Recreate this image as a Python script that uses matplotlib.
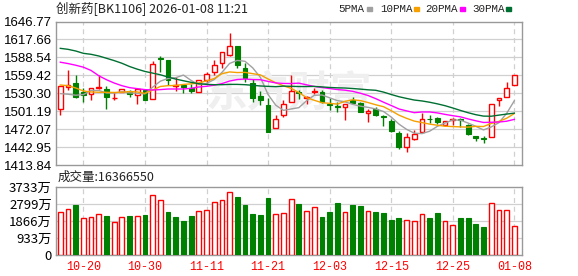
import matplotlib
matplotlib.use("Agg")
import matplotlib.pyplot as plt
import numpy as np

plt.rcParams["font.family"] = ["Noto Sans CJK SC", "DejaVu Sans"]

title = "创新药[BK1106] 2026-01-08 11:21"
date_ticks = [3, 11, 19, 27, 35, 43, 51, 59]
date_labels = ["10-20", "10-30", "11-11", "11-21", "12-03", "12-15", "12-25", "01-08"]
price_ticks = [1413.84, 1442.95, 1472.07, 1501.19, 1530.30, 1559.42, 1588.54, 1617.66, 1646.77]
vol_ticks = [0, 933, 1866, 2799, 3733]
vol_tick_labels = ["0", "933万", "1866万", "2799万", "3733万"]
last_volume = "16366550"

opens = [1504.0, 1540.5, 1546.7, 1531.9, 1529.7, 1538.3, 1537.8, 1522.8, 1533.0, 1534.0,
         1527.6, 1535.6, 1521.2, 1588.2, 1584.4, 1541.5, 1543.2, 1539.4, 1533.0, 1551.7,
         1564.0, 1580.1, 1591.9, 1606.9, 1571.0, 1546.7, 1526.5, 1510.5, 1474.5, 1494.9,
         1515.8, 1533.0, 1522.0, 1532.5, 1531.9, 1513.1, 1509.5, 1508.3, 1520.1, 1513.7,
         1497.6, 1505.1, 1493.6, 1484.7, 1466.5, 1442.9, 1455.8, 1468.1, 1489.0, 1489.6,
         1478.3, 1486.9, 1489.0, 1479.4, 1461.2, 1457.5, 1460.1, 1520.1, 1524.4, 1543.7]
closes = [1541.5, 1543.7, 1524.4, 1527.1, 1538.3, 1540.5, 1523.9, 1523.4, 1537.2, 1529.7,
          1537.2, 1519.0, 1577.5, 1586.0, 1551.7, 1543.7, 1540.0, 1534.0, 1551.2, 1561.9,
          1575.8, 1597.8, 1606.9, 1575.8, 1554.9, 1522.8, 1520.1, 1467.6, 1489.0, 1513.1,
          1534.0, 1530.8, 1523.5, 1533.6, 1515.8, 1511.0, 1508.2, 1513.1, 1513.7, 1500.3,
          1501.9, 1494.9, 1492.5, 1468.7, 1443.5, 1459.0, 1463.8, 1489.0, 1488.0, 1483.1,
          1485.8, 1489.0, 1487.0, 1464.4, 1456.9, 1456.5, 1513.1, 1522.2, 1538.9, 1559.8]
highs = [1541.5, 1568.3, 1560.3, 1538.9, 1538.3, 1559.8, 1542.1, 1531.9, 1538.0, 1536.2,
         1537.5, 1537.2, 1582.3, 1590.9, 1584.4, 1556.5, 1543.5, 1545.3, 1551.2, 1564.0,
         1584.4, 1598.0, 1627.3, 1607.0, 1580.1, 1553.3, 1533.5, 1522.8, 1494.9, 1520.1,
         1560.3, 1535.1, 1526.5, 1538.9, 1535.1, 1522.2, 1516.9, 1513.5, 1524.4, 1515.8,
         1504.0, 1508.3, 1494.5, 1489.0, 1468.7, 1466.5, 1470.9, 1497.6, 1494.4, 1492.2,
         1486.0, 1490.1, 1490.1, 1480.0, 1461.5, 1461.2, 1513.5, 1523.3, 1548.0, 1560.0]
lows = [1494.9, 1535.1, 1522.2, 1515.8, 1519.0, 1538.0, 1504.6, 1519.0, 1532.0, 1524.4,
        1512.6, 1519.0, 1521.0, 1564.0, 1543.2, 1533.5, 1530.8, 1530.8, 1533.0, 1546.9,
        1560.3, 1571.0, 1591.0, 1571.0, 1548.0, 1515.8, 1510.5, 1467.6, 1474.5, 1492.2,
        1515.8, 1521.2, 1512.6, 1529.7, 1515.0, 1503.0, 1499.7, 1486.9, 1513.0, 1499.7,
        1483.7, 1494.0, 1477.2, 1468.0, 1439.7, 1435.4, 1455.0, 1468.0, 1482.6, 1479.9,
        1476.5, 1478.3, 1476.2, 1462.2, 1453.1, 1449.4, 1460.0, 1509.4, 1524.0, 1543.7]

ma5 = [1529.7, 1528.7, 1527.1, 1528.2, 1535.0, 1534.8, 1530.8, 1530.6, 1532.7, 1530.9,
       1530.3, 1529.3, 1540.1, 1549.9, 1554.3, 1555.6, 1559.8, 1551.1, 1544.1, 1546.2,
       1552.6, 1564.1, 1578.7, 1583.6, 1582.2, 1571.6, 1556.1, 1528.2, 1510.9, 1502.5,
       1504.8, 1506.9, 1518.1, 1527.0, 1527.5, 1522.9, 1518.4, 1516.3, 1512.4, 1509.3,
       1507.4, 1504.8, 1500.7, 1491.7, 1480.3, 1471.7, 1465.5, 1464.8, 1468.7, 1476.6,
       1481.9, 1487.0, 1486.6, 1481.9, 1476.6, 1470.8, 1475.6, 1482.6, 1497.5, 1518.1]
ma10 = [1543.7, 1542.6, 1538.9, 1534.0, 1532.4, 1531.9, 1531.8, 1531.6, 1532.0, 1533.0,
        1532.5, 1530.1, 1535.4, 1541.3, 1542.6, 1543.0, 1544.6, 1545.6, 1547.0, 1550.3,
        1554.1, 1562.0, 1564.9, 1563.9, 1564.2, 1562.1, 1560.1, 1553.5, 1547.3, 1542.4,
        1538.2, 1531.5, 1523.2, 1518.9, 1515.0, 1513.9, 1512.7, 1517.2, 1519.7, 1518.4,
        1515.2, 1511.6, 1508.5, 1502.0, 1494.8, 1489.6, 1485.1, 1482.7, 1480.2, 1478.4,
        1476.8, 1476.2, 1475.7, 1475.3, 1476.6, 1476.3, 1481.3, 1484.6, 1489.7, 1497.3]
ma20 = [1580.7, 1578.5, 1575.8, 1572.6, 1567.3, 1558.7, 1552.3, 1546.9, 1542.6, 1539.4,
        1537.8, 1536.2, 1535.6, 1536.2, 1537.2, 1537.2, 1537.2, 1538.3, 1540.5, 1541.6,
        1543.3, 1546.0, 1550.1, 1552.6, 1553.4, 1552.5, 1552.3, 1549.5, 1547.1, 1546.3,
        1546.1, 1546.7, 1544.0, 1541.4, 1539.6, 1537.9, 1536.3, 1535.3, 1533.4, 1530.3,
        1526.6, 1521.5, 1515.8, 1510.4, 1504.8, 1501.7, 1498.8, 1499.9, 1499.9, 1498.4,
        1496.0, 1493.9, 1492.0, 1488.6, 1485.6, 1482.9, 1483.2, 1483.6, 1484.9, 1487.9]
ma30 = [1603.2, 1601.6, 1598.9, 1595.1, 1593.5, 1590.8, 1587.1, 1583.3, 1579.0, 1573.7,
        1569.4, 1565.7, 1563.0, 1560.3, 1556.6, 1553.3, 1550.6, 1548.0, 1545.8, 1544.7,
        1544.2, 1544.2, 1544.7, 1544.7, 1544.2, 1543.2, 1542.1, 1541.5, 1541.0, 1541.9,
        1541.6, 1541.2, 1541.2, 1541.4, 1540.6, 1539.7, 1539.1, 1538.8, 1538.0, 1537.0,
        1535.9, 1535.1, 1532.2, 1528.3, 1524.7, 1521.9, 1519.3, 1517.8, 1515.7, 1513.1,
        1510.1, 1506.4, 1502.4, 1498.7, 1495.5, 1493.2, 1493.0, 1494.8, 1496.5, 1498.0]

# volume in 万 (10k shares), colour as drawn in the reference
volumes = [2362, 2524, 2705, 2037, 2091, 2254, 2110, 1821, 2091, 2110,
           2146, 2164, 3281, 3011, 2326, 2055, 1839, 2110, 2416, 2470,
           2903, 3011, 3444, 3137, 2705, 2218, 2164, 3083, 2218, 2308,
           3065, 2759, 2416, 2632, 2055, 2326, 2813, 2362, 2705, 2650,
           2416, 2362, 2308, 1893, 2001, 1929, 1875, 2218, 2001, 2272,
           1875, 1623, 2001, 2001, 1677, 1515, 2849, 2470, 2470, 1605]
vol_up = "RRGRRRGRRGRGRRGGGGRRRRRGGGGGRRRGRRGGGRGGRGGGGRRRGGRRGGGGRRRR"

RED = "#ff0000"
GREEN = "#008000"
GRID = "#d0d0d0"
FRAME = "#999999"

W, H = 578, 276
fig = plt.figure(figsize=(W / 100, H / 100), dpi=100)


def rect(x0, y0, x1, y1):
    return [x0 / W, 1 - y1 / H, (x1 - x0) / W, (y1 - y0) / H]


ax = fig.add_axes(rect(56, 21.5, 522, 165))
axv = fig.add_axes(rect(56, 186.5, 522, 255))

x = np.arange(len(closes))
o = np.array(opens)
c = np.array(closes)
hi = np.array(highs)
lo = np.array(lows)
up = c >= o
w = 0.62

for a in (ax, axv):
    a.set_xlim(-0.56, 60.0)
    for s in a.spines.values():
        s.set_color(FRAME)
        s.set_linewidth(1.0)
    a.set_xticks(date_ticks)
    for t in date_ticks:
        a.axvline(t, color=GRID, lw=0.9, ls=(0, (4, 3)), zorder=0)
    a.tick_params(length=0, labelsize=9, pad=3)

# price panel
ax.set_ylim(price_ticks[0], price_ticks[-1])
ax.set_yticks(price_ticks)
ax.set_yticklabels([f"{v:.2f}" for v in price_ticks], fontfamily="Liberation Sans", fontsize=9.5)
for v in price_ticks[1:-1]:
    ax.axhline(v, color=GRID, lw=0.9, zorder=0)
ax.set_xticklabels([])

ax.text(0.5, 0.5, "东方财富", transform=ax.transAxes, fontsize=30, color="#efefef",
        style="italic", fontweight="bold", ha="center", va="center", zorder=0)

# wicks
ax.vlines(x[~up], lo[~up], hi[~up], color=GREEN, lw=1.0, zorder=2)
ax.vlines(x[up], lo[up], o[up], color=RED, lw=1.0, zorder=2)
ax.vlines(x[up], c[up], hi[up], color=RED, lw=1.0, zorder=2)
# bodies
ax.bar(x[~up], (o - c)[~up], bottom=c[~up], width=w, color=GREEN, edgecolor=GREEN, lw=0.8, zorder=3)
ax.bar(x[up], np.maximum((c - o)[up], 0.3), bottom=o[up], width=w, facecolor="white",
       edgecolor=RED, lw=1.0, zorder=3)

ax.plot(x, ma5, color="#a0a0a0", lw=1.0, zorder=4)
ax.plot(x, ma10, color="#f5a000", lw=1.0, zorder=4)
ax.plot(x, ma20, color="#ff00ff", lw=1.0, zorder=4)
ax.plot(x, ma30, color="#006f32", lw=1.0, zorder=4)

# volume panel
vol = np.array(volumes)
vup = np.array([ch == "R" for ch in vol_up])
axv.set_ylim(0, vol_ticks[-1])
axv.set_yticks(vol_ticks)
axv.set_yticklabels(vol_tick_labels, fontsize=9.5)
for v in vol_ticks[1:-1]:
    axv.axhline(v, color=GRID, lw=0.9, zorder=0)
axv.bar(x[~vup], vol[~vup], width=w, color=GREEN, edgecolor=GREEN, lw=0.8, zorder=3)
axv.bar(x[vup], vol[vup], width=w, facecolor="white", edgecolor=RED, lw=1.0, zorder=3)
axv.set_xticklabels(date_labels, color=RED, fontfamily="Liberation Mono", fontsize=8.5)
axv.tick_params(axis="x", pad=4)

# header texts
fig.text(56 / W, 1 - 9 / H, title, fontsize=9, va="center", ha="left", color="#222222")
fig.text(58 / W, 1 - 177 / H, "成交量:" + last_volume, fontsize=9, va="center", ha="left", color="#222222")

legend = [("5PMA", "#a0a0a0"), ("10PMA", "#f5a000"), ("20PMA", "#ff00ff"), ("30PMA", "#006f32")]
text_x = [338, 380, 425, 472]
box_x = [367, 414, 460, 506]
for (name, col), tx, bx in zip(legend, text_x, box_x):
    fig.text(tx / W, 1 - 9 / H, name, fontsize=7.8, va="center", ha="left",
             fontfamily="Liberation Mono", color="#222222")
    fig.patches.append(plt.Rectangle((bx / W, 1 - 11 / H), 5 / W, 4 / H, transform=fig.transFigure,
                                     color=col, figure=fig))

fig.savefig("out.png", dpi=100)
